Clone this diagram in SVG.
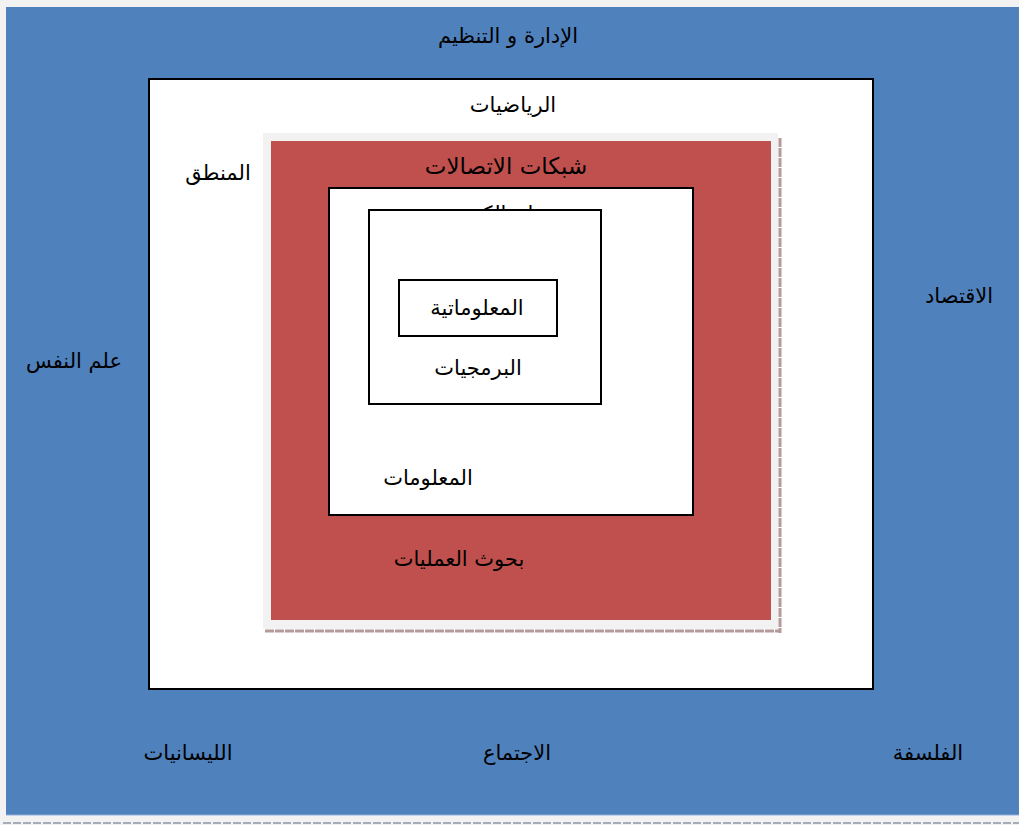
<svg xmlns="http://www.w3.org/2000/svg" width="1019" height="825" viewBox="0 0 1019 825">
<style>
text{font-family:"DejaVu Sans","Noto Sans",sans-serif;font-size:21px;fill:#000;text-anchor:middle;direction:rtl}
.box{fill:#fff;stroke:#000;stroke-width:2}
</style>
<rect x="0" y="0" width="1019" height="825" fill="#f2f2f2"/>
<g id="outer">
<rect x="6" y="7" width="1013" height="808" fill="#4f81bd"/>
<line x1="6" y1="815" x2="1019" y2="815" stroke="#8eb0dc" stroke-width="1"/>
<line x1="3" y1="823" x2="1019" y2="823" stroke="#a6adb8" stroke-width="2" stroke-dasharray="8,2"/>
<text x="508" y="43">الإدارة و التنظيم</text>
<text x="74" y="368">علم النفس</text>
<text x="959" y="303">الاقتصاد</text>
<text x="188" y="760">الليسانيات</text>
<text x="517" y="760">الاجتماع</text>
<text x="928" y="760">الفلسفة</text>
</g>
<g id="math">
<rect class="box" x="149" y="79" width="724" height="610"/>
<text x="513" y="112">الرياضيات</text>
<text x="218" y="180">المنطق</text>
</g>
<g id="networks">
<line x1="780" y1="138" x2="780" y2="633" stroke="#b49a9a" stroke-width="3" stroke-dasharray="9,1"/>
<line x1="265" y1="631" x2="781" y2="631" stroke="#b49a9a" stroke-width="3" stroke-dasharray="9,1"/>
<rect x="263" y="133" width="515" height="496" fill="#f2f2f2"/>
<rect x="271" y="141" width="500" height="479" fill="#c0504d"/>
<text x="506" y="174" style="font-size:23px">شبكات الاتصالات</text>
<text x="459" y="566">بحوث العمليات</text>
</g>
<g id="information">
<rect class="box" x="329" y="188" width="364" height="327"/>
<text x="488" y="221">علم الكمبيوتر</text>
<text x="428" y="485">المعلومات</text>
</g>
<g id="software">
<rect class="box" x="369" y="210" width="232" height="194"/>
<text x="478" y="375">البرمجيات</text>
</g>
<g id="informatics">
<rect class="box" x="399" y="280" width="158" height="56"/>
<text x="477" y="315">المعلوماتية</text>
</g>
<g id="connectors"/>
</svg>
